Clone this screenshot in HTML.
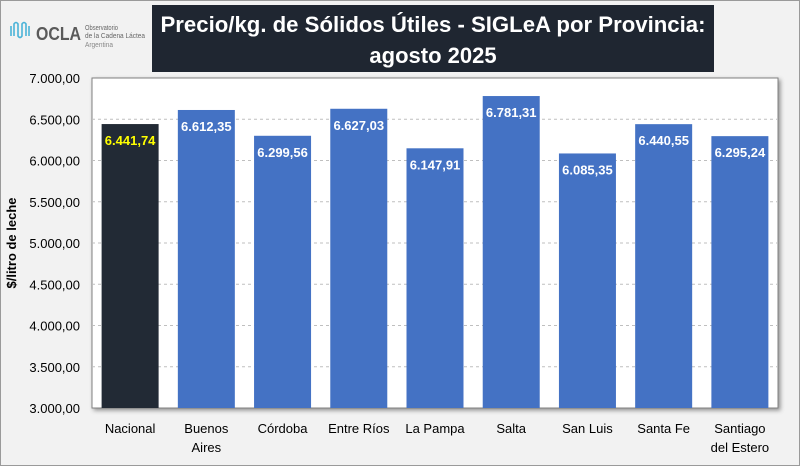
<!DOCTYPE html>
<html><head><meta charset="utf-8"><style>
body{margin:0;width:800px;height:466px;background:#f2f2f2;font-family:"Liberation Sans",sans-serif;overflow:hidden}
#frame{position:absolute;left:0;top:0;width:798px;height:464px;border:1px solid #9a9a9a;background:#f2f2f2}
</style></head><body>
<div id="frame"></div>
<svg id="c" width="800" height="466" style="position:absolute;left:0;top:0">
<defs><filter id="sh" x="-5%" y="-5%" width="110%" height="110%"><feDropShadow dx="2" dy="2" stdDeviation="2" flood-color="#000" flood-opacity="0.4"/></filter></defs>
<g>
<path d="M11 36 v-10 M14 36 v-12 q2-3 4 0 v12 q2 3 4 0 v-12 q2-3 4 0 v12 M29 36 v-10" stroke="#4bb3d8" stroke-width="1.6" fill="none"/>
<text x="36" y="40" font-size="18" font-weight="bold" fill="#5a5a5a" textLength="45" lengthAdjust="spacingAndGlyphs">OCLA</text>
<text x="85" y="30" font-size="7" fill="#666" textLength="33" lengthAdjust="spacingAndGlyphs">Observatorio</text>
<text x="85" y="38" font-size="7" fill="#666" textLength="60" lengthAdjust="spacingAndGlyphs">de la Cadena Láctea</text>
<text x="85" y="47" font-size="7" fill="#888" textLength="28" lengthAdjust="spacingAndGlyphs">Argentina</text>
</g>
<rect x="152" y="5" width="562" height="67" fill="#1f2631"/>
<text x="433" y="32" text-anchor="middle" font-size="22" font-weight="bold" fill="#fff" textLength="545" lengthAdjust="spacingAndGlyphs">Precio/kg. de Sólidos Útiles - SIGLeA por Provincia:</text>
<text x="433" y="63" text-anchor="middle" font-size="22" font-weight="bold" fill="#fff">agosto 2025</text>
<rect x="92" y="78" width="686" height="330" fill="#fff" stroke="#808080" filter="url(#sh)"/>
<g id="grid"></g><g id="bars"></g><g id="axes"></g>
<text transform="translate(16,243) rotate(-90)" text-anchor="middle" font-size="13" font-weight="bold" fill="#000">$/litro de leche</text>
</svg>
<script>
const categories=[["Nacional"],["Buenos","Aires"],["Córdoba"],["Entre Ríos"],["La Pampa"],["Salta"],["San Luis"],["Santa Fe"],["Santiago","del Estero"]];
const values=[6441.74,6612.35,6299.56,6627.03,6147.91,6781.31,6085.35,6440.55,6295.24];
const valueLabels=["6.441,74","6.612,35","6.299,56","6.627,03","6.147,91","6.781,31","6.085,35","6.440,55","6.295,24"];
const ticks=[3000,3500,4000,4500,5000,5500,6000,6500,7000];
const tickLabels=["3.000,00","3.500,00","4.000,00","4.500,00","5.000,00","5.500,00","6.000,00","6.500,00","7.000,00"];
const NS="http://www.w3.org/2000/svg";
const x0=92,x1=778,yT=78,yB=408,vmin=3000,vmax=7000;
const y=v=>yB-(v-vmin)/(vmax-vmin)*(yB-yT);
const step=(x1-x0)/categories.length;
const bx=i=>x0+step*i+step/2;
function mk(t,a,p){const e=document.createElementNS(NS,t);for(const k in a)e.setAttribute(k,a[k]);p.appendChild(e);return e;}
const g=document.getElementById('grid'),b=document.getElementById('bars'),ax=document.getElementById('axes');
ticks.forEach((t,i)=>{
 if(t>vmin&&t<vmax){const l=mk('line',{x1:x0,x2:x1,y1:y(t),y2:y(t),stroke:'#bfbfbf','stroke-dasharray':'3,3'},g);
 
 }
 const tx=mk('text',{x:80,y:y(t)+5,'text-anchor':'end','font-size':'13',fill:'#000'},ax);tx.textContent=tickLabels[i];
 
 
});
const bw=57;
values.forEach((v,i)=>{
 const r=mk('rect',{x:bx(i)-bw/2,y:y(v),width:bw,height:yB-y(v),fill:i==0?'#222a35':'#4472c4'},b);
 
 
 const t=mk('text',{x:bx(i),y:y(v)+21,'text-anchor':'middle','font-size':'13','font-weight':'bold',fill:i==0?'#ffff00':'#fff'},b);t.textContent=valueLabels[i];
 
 
 categories[i].forEach((s,j)=>{const c=mk('text',{x:bx(i),y:433+j*19,'text-anchor':'middle','font-size':'13',fill:'#000'},ax);c.textContent=s;
 
 });
});
</script>
</body></html>
